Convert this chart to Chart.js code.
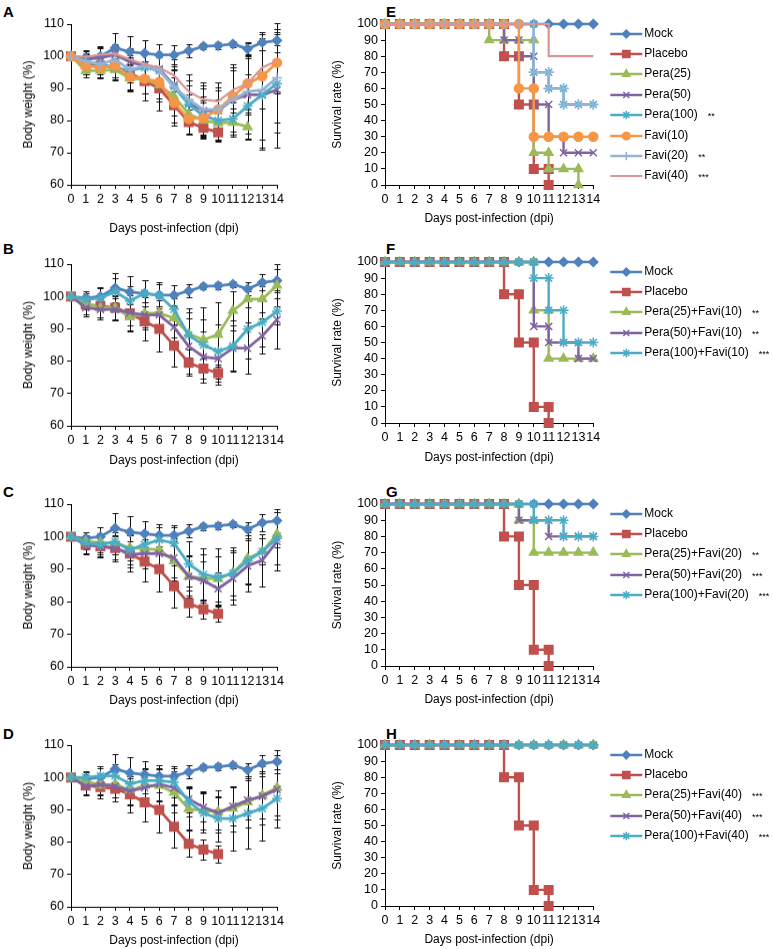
<!DOCTYPE html>
<html>
<head>
<meta charset="utf-8">
<script src="https://cdn.jsdelivr.net/npm/chart.js@4.4.0/dist/chart.umd.min.js"></script>
<style>
  body { margin: 0; background: #fff; width: 774px; height: 949px; position: relative; overflow: hidden; font-family: "Liberation Sans", Arial, sans-serif; }
  .tag { position: absolute; font-weight: bold; font-size: 15px; line-height: 15px; }
</style>
</head>
<body>
<div class="tag" style="left:3px;top:4px">A</div>
<div class="tag" style="left:3px;top:241px">B</div>
<div class="tag" style="left:3px;top:484px">C</div>
<div class="tag" style="left:3px;top:726px">D</div>
<div class="tag" style="left:386px;top:4px">E</div>
<div class="tag" style="left:386px;top:241px">F</div>
<div class="tag" style="left:386px;top:484px">G</div>
<div class="tag" style="left:386px;top:726px">H</div>
<script>
// ---- body weight (%) per day, day 0..14 ----
const mockW = [100, 99.5, 100, 102.6, 101.4, 100.9, 100.4, 100.4, 101.7, 103.1, 103.3, 103.8, 102.3, 104.3, 104.9];
const mockSd = [0, 2, 2.8, 4.5, 5, 4, 3.5, 3, 2, 1, 1, 1, 2, 2.5, 3.5];
const placeboW = [100, 97.5, 97, 96.5, 94.8, 92.3, 90, 84.8, 79.5, 77.7, 76.3];
const placeboSd = [0, 3, 3.5, 4, 5.5, 6, 7, 6.5, 4, 3, 2.5];

// panel A
const pera25A = [100, 95.5, 95.5, 95.8, 93.2, 92.8, 91, 87.5, 82, 80, 79.2, 79.4, 78];
const pera25ASd = [0, 2, 2.5, 3, 4, 4.5, 5, 6, 6, 5.5, 5, 4.5, 4];
const pera50A = [100, 99, 99.5, 100.5, 98.2, 97, 96, 91, 85.5, 83, 83, 86.5, 88, 88, 89.5];
const pera50ASd = [0, 2, 3, 3, 4, 4, 5, 6, 7, 8, 9, 10, 12, 17, 18];
const pera100A = [100, 98, 97.5, 96.5, 95.5, 96.5, 95.5, 90.5, 85, 81.5, 80, 80.5, 84.5, 88, 91.5];
const pera100ASd = [0, 2, 3, 3, 3.5, 4, 4.5, 5.5, 6, 6, 6.5, 5, 10, 14, 12];
const favi10A = [100, 97, 96.5, 97, 93.6, 93, 92, 85.5, 80.5, 80.8, 83.4, 87.5, 91.5, 93.8, 98];
const favi10ASd = [0, 2.5, 3, 3.5, 4, 4.5, 5, 6, 5, 5.5, 6, 8, 9, 10, 9];
const favi20A = [100, 98.5, 97.5, 99, 95.8, 97, 95.6, 90.5, 86.5, 83.4, 83.4, 86.5, 89, 89.5, 93.3];
const favi20ASd = [0, 2, 2.5, 3, 4, 4, 4, 5, 6, 6.5, 7, 11, 15, 18, 17];
const favi40A = [100, 99.8, 100.5, 100.8, 99, 97.5, 96.5, 94, 89, 86.5, 86, 89.5, 91.5, 96.5, 98.5];
const favi40ASd = [0, 2, 2.5, 3, 3.5, 4, 4.5, 5, 5.5, 5.5, 6, 7, 8, 9, 10];

// panel B
const p25f10B = [100, 98, 96.5, 96.5, 93.6, 94.8, 94.8, 93.3, 88.4, 86.6, 88.2, 95.6, 99.2, 99.2, 103.4];
const p25f10BSd = [0, 2, 3, 3.5, 4, 5, 5, 6, 8, 10, 10, 6, 2.5, 4, 6.5];
const p50f10B = [100, 96.5, 96, 96, 95, 94.3, 94.3, 90.5, 84.6, 81.3, 80.8, 84, 84, 87.8, 92.8];
const p50f10BSd = [0, 2.5, 3, 3.5, 4, 4, 4.5, 6, 8.5, 8, 8, 7, 8, 5.5, 9];
const p100f10B = [100, 99, 99.5, 101.5, 98.6, 101, 100.3, 96, 88, 85, 83, 84.7, 89.9, 92, 95.4];
const p100f10BSd = [0, 2, 3, 4, 4.5, 4, 4, 5, 7, 8, 8.5, 8, 9, 7.5, 4];

// panel C
const p25f20C = [100, 98.5, 98.2, 98, 96.6, 96.3, 96, 92.5, 87.8, 87.2, 87, 88.9, 93.3, 95.4, 100.8];
const p25f20CSd = [0, 2, 3, 3.5, 4, 4.5, 4.5, 6, 6.5, 7.5, 7, 7, 8, 4, 4];
const p50f20C = [100, 97.5, 97, 96.5, 94.5, 94.8, 94.8, 93.5, 87.8, 86.5, 84, 87.2, 91, 92.8, 98.5];
const p50f20CSd = [0, 2.5, 3, 3.5, 4, 4.5, 5, 6, 6, 6, 5, 8, 8, 8, 9];
const p100f20C = [100, 98, 97.5, 98.5, 95.9, 97.6, 99, 98, 91.6, 88.4, 87.5, 88.7, 92.6, 95.4, 99.5];
const p100f20CSd = [0, 2, 3, 4, 4.5, 4, 4, 5, 7, 8, 9, 8, 7, 4, 8];

// panel D
const p25f40D = [100, 99, 97.5, 98, 96, 97.5, 97.5, 95.3, 90.3, 89.8, 89.4, 90.4, 92.4, 94.5, 96.9];
const p25f40DSd = [0, 2, 3, 4, 4.5, 5, 5, 6, 6.5, 6, 6.5, 7, 8, 9, 10];
const p50f40D = [100, 97.3, 97.8, 97.3, 95.8, 96.8, 98, 96.8, 93.3, 90.8, 89, 91.1, 93, 94.2, 96.3];
const p50f40DSd = [0, 2.5, 3, 3.5, 4, 4.5, 5, 5, 4, 4.5, 5, 6, 6, 7, 8];
const p100f40D = [100, 100, 100.5, 100.5, 98, 99, 99, 98.5, 92.5, 89, 87.3, 87.3, 88.9, 90.4, 93.5];
const p100f40DSd = [0, 2, 3, 3.5, 4, 4, 3.5, 4.5, 4.5, 6, 7, 10, 11, 10, 9];

// ---- survival rate (%) per day, day 0..14 ----
const mockS = [100, 100, 100, 100, 100, 100, 100, 100, 100, 100, 100, 100, 100, 100, 100];
const placeboS = [100, 100, 100, 100, 100, 100, 100, 100, 80, 50, 10, 0];
const pera25S = [100, 100, 100, 100, 100, 100, 100, 90, 90, 90, 20, 10, 10, 0];
const pera50S = [100, 100, 100, 100, 100, 100, 100, 100, 90, 80, 50, 30, 20, 20, 20];
const pera100S = [100, 100, 100, 100, 100, 100, 100, 100, 100, 100, 70, 60, 50, 50, 50];
const favi10S = [100, 100, 100, 100, 100, 100, 100, 100, 100, 60, 30, 30, 30, 30, 30];
const favi20S = [100, 100, 100, 100, 100, 100, 100, 100, 100, 100, 70, 60, 50, 50, 50];
const favi40S = [100, 100, 100, 100, 100, 100, 100, 100, 100, 100, 100, 80, 80, 80, 80];
const p25f10S = [100, 100, 100, 100, 100, 100, 100, 100, 100, 100, 70, 40, 40, 40, 40];
const p50f10S = [100, 100, 100, 100, 100, 100, 100, 100, 100, 100, 60, 50, 50, 40, 40];
const p100f10S = [100, 100, 100, 100, 100, 100, 100, 100, 100, 100, 90, 70, 50, 50, 50];
const p25f20S = [100, 100, 100, 100, 100, 100, 100, 100, 100, 90, 70, 70, 70, 70, 70];
const p50f20S = [100, 100, 100, 100, 100, 100, 100, 100, 100, 90, 90, 80, 80, 80, 80];
const p100f20S = [100, 100, 100, 100, 100, 100, 100, 100, 100, 100, 90, 90, 80, 80, 80];
const p25f40S = [100, 100, 100, 100, 100, 100, 100, 100, 100, 100, 100, 100, 100, 100, 100];
const p50f40S = [100, 100, 100, 100, 100, 100, 100, 100, 100, 100, 100, 100, 100, 100, 100];
const p100f40S = [100, 100, 100, 100, 100, 100, 100, 100, 100, 100, 100, 100, 100, 100, 100];

const FONT = '"Liberation Sans", Arial, sans-serif';
const STY = {
  mock: { color: '#4F81BD', marker: 'rectRot', size: 4.5 },
  placebo: { color: '#C0504D', marker: 'rect', size: 6 },
  green: { color: '#9BBB59', marker: 'triangle', size: 5 },
  purple: { color: '#8064A2', marker: 'crossRot', size: 5 },
  teal: { color: '#4BACC6', marker: 'star', size: 5 },
  orange: { color: '#F79646', marker: 'circle', size: 4.5 },
  lblue: { color: '#95B3D7', marker: 'cross', size: 5 },
  pink: { color: '#D99694', marker: 'circle', size: 0 },
};

// Kaplan-Meier style points: a drop day gets both the old and new level
function steps(vals) {
  const pts = [];
  vals.forEach((v, d) => {
    if (d > 0 && v !== vals[d - 1]) pts.push({ x: d, y: vals[d - 1] });
    pts.push({ x: d, y: v });
  });
  return pts;
}

const errorBars = {
  id: 'errorBars',
  beforeDatasetsDraw(chart) {
    const { ctx, scales: { x, y } } = chart;
    ctx.save();
    ctx.strokeStyle = '#111';
    ctx.lineWidth = 1;
    chart.data.datasets.forEach(ds => {
      if (!ds.sd) return;
      ds.data.forEach((p, i) => {
        const e = ds.sd[i];
        if (!e) return;
        const px = Math.round(x.getPixelForValue(p.x)) + 0.5;
        const hi = Math.round(y.getPixelForValue(p.y + e)) + 0.5;
        const lo = Math.round(y.getPixelForValue(p.y - e)) + 0.5;
        ctx.beginPath();
        ctx.moveTo(px, hi); ctx.lineTo(px, lo);
        ctx.moveTo(px - 3, hi); ctx.lineTo(px + 3, hi);
        ctx.moveTo(px - 3, lo); ctx.lineTo(px + 3, lo);
        ctx.stroke();
      });
    });
    ctx.restore();
  }
};

const sideLegend = {
  id: 'sideLegend',
  afterDraw(chart, args, opts) {
    const { ctx, chartArea } = chart;
    ctx.save();
    chart.data.datasets.forEach((ds, i) => {
      const y = Math.round(chartArea.top + opts.first + i * opts.step);
      const x0 = chartArea.right + opts.gap;
      ctx.strokeStyle = ds.borderColor;
      ctx.fillStyle = ds.borderColor;
      ctx.lineWidth = ds.borderWidth;
      ctx.beginPath(); ctx.moveTo(x0, y); ctx.lineTo(x0 + 32, y); ctx.stroke();
      ctx.lineWidth = ds.pointBorderWidth;
      Chart.helpers.drawPoint(ctx, { pointStyle: ds.pointStyle, radius: ds.pointRadius * 0.85, borderWidth: ds.pointBorderWidth }, x0 + 16, y);
      ctx.fillStyle = '#000';
      ctx.font = '12px ' + FONT;
      ctx.textBaseline = 'middle';
      ctx.fillText(ds.label, x0 + 34, y);
      if (ds.sig) {
        const w = ctx.measureText(ds.label).width;
        ctx.font = '9px ' + FONT;
        ctx.fillText(ds.sig, x0 + 34 + w + 10, y + 2);
      }
    });
    ctx.restore();
  }
};

function makeCanvas(x, y, w, h) {
  const c = document.createElement('canvas');
  c.width = w; c.height = h;
  c.style.cssText = `position:absolute;left:${x}px;top:${y}px;width:${w}px;height:${h}px`;
  document.body.appendChild(c);
  return c;
}

function xAxis(h) {
  return {
    type: 'linear', min: 0, max: 14,
    afterFit: s => { s.height = h; },
    ticks: { stepSize: 1, autoSkip: false, maxRotation: 0, padding: 3, color: '#000', font: { family: FONT, size: 12.5 } },
    grid: { drawOnChartArea: false, tickLength: 4, color: '#000' },
    border: { color: '#000', width: 1 },
    title: { display: true, text: 'Days post-infection (dpi)', color: '#000', font: { family: FONT, size: 12 }, padding: 0 }
  };
}

function yAxis(min, max, text, w, tpad) {
  return {
    min, max,
    afterFit: s => { s.width = w; },
    ticks: { stepSize: 10, autoSkip: false, padding: 3, color: '#000', font: { family: FONT, size: 12.5 } },
    grid: { drawOnChartArea: false, tickLength: 4, color: '#000' },
    border: { color: '#000', width: 1 },
    title: { display: true, text, color: '#000', font: { family: FONT, size: 12 }, padding: { top: tpad, bottom: 0 } }
  };
}

function toDatasets(series, lineW) {
  return series.map((s, i) => ({
    label: s.label,
    sig: s.sig || '',
    sd: s.sd,
    data: s.points,
    borderColor: s.sty.color,
    backgroundColor: s.sty.color,
    pointBackgroundColor: s.sty.color,
    pointBorderColor: s.sty.color,
    borderWidth: s.sty.size === 0 ? 2.2 : lineW,
    pointStyle: s.sty.marker,
    pointRadius: s.sty.size,
    pointBorderWidth: 1.5,
    tension: 0,
    clip: false,
    order: series.length - i
  }));
}

// left column: body weight
function weightPanel(top, bottom, titleGap, series) {
  const padTop = 16, xh = titleGap + 8, left = 71, right = 277;
  const cv = makeCanvas(0, top - padTop, 300, bottom - top + padTop + xh + 2);
  const sets = series.map(s => ({ ...s, points: s.values.map((v, d) => ({ x: d, y: v })) }));
  new Chart(cv, {
    type: 'line',
    data: { datasets: toDatasets(sets, 2.8) },
    options: {
      responsive: false, animation: false, events: [], devicePixelRatio: 1,
      layout: { padding: { left: 4, top: padTop, right: 300 - right, bottom: 2 } },
      plugins: { legend: { display: false }, tooltip: { enabled: false } },
      scales: { x: xAxis(xh), y: yAxis(60, 110, 'Body weight (%)', left - 4, 17.5) }
    },
    plugins: [errorBars]
  });
}

// right column: survival with legend
function survivalPanel(top, bottom, titleGap, series) {
  const padTop = 16, xh = titleGap + 8, cx = 318, left = 385, right = 593.3;
  const cv = makeCanvas(cx, top - padTop, 774 - cx, bottom - top + padTop + xh + 2);
  const sets = series.map(s => ({ ...s, points: steps(s.values) }));
  new Chart(cv, {
    type: 'line',
    data: { datasets: toDatasets(sets, 2.4) },
    options: {
      responsive: false, animation: false, events: [], devicePixelRatio: 1,
      layout: { padding: { left: 4, top: padTop, right: 774 - right, bottom: 2 } },
      plugins: {
        legend: { display: false }, tooltip: { enabled: false },
        sideLegend: { first: 9.5, step: 20.4, gap: 17 }
      },
      scales: { x: xAxis(xh), y: yAxis(0, 100, 'Survival rate (%)', left - cx - 4, 8) }
    },
    plugins: [sideLegend]
  });
}

const mockW_ = { label: 'Mock', values: mockW, sd: mockSd, sty: STY.mock };
const placeboW_ = { label: 'Placebo', values: placeboW, sd: placeboSd, sty: STY.placebo };

weightPanel(24.3, 185, 43, [
  mockW_, placeboW_,
  { label: 'Pera(25)', values: pera25A, sd: pera25ASd, sty: STY.green },
  { label: 'Pera(50)', values: pera50A, sd: pera50ASd, sty: STY.purple },
  { label: 'Pera(100)', values: pera100A, sd: pera100ASd, sty: STY.teal },
  { label: 'Favi(10)', values: favi10A, sd: favi10ASd, sty: STY.orange },
  { label: 'Favi(20)', values: favi20A, sd: favi20ASd, sty: STY.lblue },
  { label: 'Favi(40)', values: favi40A, sd: favi40ASd, sty: STY.pink }
]);
weightPanel(264.3, 426, 34, [
  mockW_, placeboW_,
  { label: 'Pera(25)+Favi(10)', values: p25f10B, sd: p25f10BSd, sty: STY.green },
  { label: 'Pera(50)+Favi(10)', values: p50f10B, sd: p50f10BSd, sty: STY.purple },
  { label: 'Pera(100)+Favi(10)', values: p100f10B, sd: p100f10BSd, sty: STY.teal }
]);
weightPanel(504.3, 666.7, 33, [
  mockW_, placeboW_,
  { label: 'Pera(25)+Favi(20)', values: p25f20C, sd: p25f20CSd, sty: STY.green },
  { label: 'Pera(50)+Favi(20)', values: p50f20C, sd: p50f20CSd, sty: STY.purple },
  { label: 'Pera(100)+Favi(20)', values: p100f20C, sd: p100f20CSd, sty: STY.teal }
]);
weightPanel(745, 906.7, 33, [
  mockW_, placeboW_,
  { label: 'Pera(25)+Favi(40)', values: p25f40D, sd: p25f40DSd, sty: STY.green },
  { label: 'Pera(50)+Favi(40)', values: p50f40D, sd: p50f40DSd, sty: STY.purple },
  { label: 'Pera(100)+Favi(40)', values: p100f40D, sd: p100f40DSd, sty: STY.teal }
]);

const mockS_ = { label: 'Mock', values: mockS, sty: STY.mock };
const placeboS_ = { label: 'Placebo', values: placeboS, sty: STY.placebo };

survivalPanel(24, 185, 33, [
  mockS_, placeboS_,
  { label: 'Pera(25)', values: pera25S, sty: STY.green },
  { label: 'Pera(50)', values: pera50S, sty: STY.purple },
  { label: 'Pera(100)', values: pera100S, sty: STY.teal, sig: '**' },
  { label: 'Favi(10)', values: favi10S, sty: STY.orange },
  { label: 'Favi(20)', values: favi20S, sty: STY.lblue, sig: '**' },
  { label: 'Favi(40)', values: favi40S, sty: STY.pink, sig: '***' }
]);
survivalPanel(262, 423, 34, [
  mockS_, placeboS_,
  { label: 'Pera(25)+Favi(10)', values: p25f10S, sty: STY.green, sig: '**' },
  { label: 'Pera(50)+Favi(10)', values: p50f10S, sty: STY.purple, sig: '**' },
  { label: 'Pera(100)+Favi(10)', values: p100f10S, sty: STY.teal, sig: '***' }
]);
survivalPanel(504, 666, 33, [
  mockS_, placeboS_,
  { label: 'Pera(25)+Favi(20)', values: p25f20S, sty: STY.green, sig: '**' },
  { label: 'Pera(50)+Favi(20)', values: p50f20S, sty: STY.purple, sig: '***' },
  { label: 'Pera(100)+Favi(20)', values: p100f20S, sty: STY.teal, sig: '***' }
]);
survivalPanel(745, 906, 33, [
  mockS_, placeboS_,
  { label: 'Pera(25)+Favi(40)', values: p25f40S, sty: STY.green, sig: '***' },
  { label: 'Pera(50)+Favi(40)', values: p50f40S, sty: STY.purple, sig: '***' },
  { label: 'Pera(100)+Favi(40)', values: p100f40S, sty: STY.teal, sig: '***' }
]);
</script>
</body>
</html>
